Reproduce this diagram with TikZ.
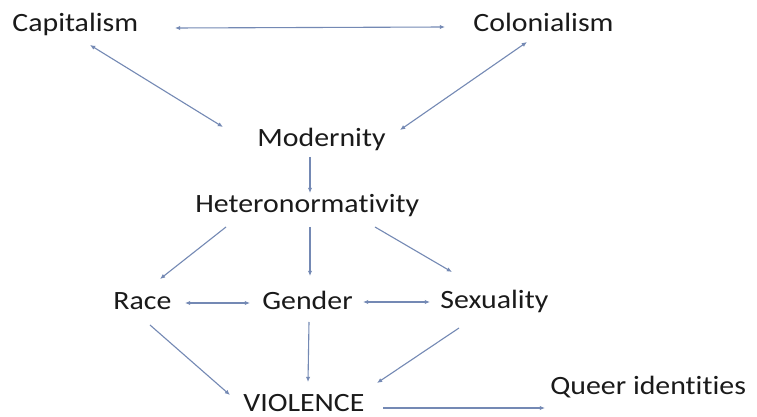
\documentclass[tikz,border=0pt]{standalone}
\usepackage{fontspec}
\setmainfont{Carlito}[FakeStretch=1.13,Ligatures={NoCommon,NoRequired,NoContextual}]
\usetikzlibrary{arrows.meta,calc}
\definecolor{arrowc}{HTML}{7489B4}
\definecolor{txt}{HTML}{1A1A1A}
\tikzset{
  lbl/.style={anchor=base west, inner sep=0pt, text=txt, font=\fontsize{13.2}{15}\selectfont},
  conn/.style={draw=arrowc, line width=0.55pt, -{Latex[length=2.6pt,width=2.2pt]}},
  biconn/.style={draw=arrowc, line width=0.55pt, {Latex[length=2.6pt,width=2.2pt]}-{Latex[length=2.6pt,width=2.2pt]}}
}
\begin{document}
\begin{tikzpicture}[x=0.5pt,y=-0.5pt]
\useasboundingbox[fill=white] (0,0) rectangle (757,417);
\node[lbl] (cap) at (12,32) {Capitalism};
\node[lbl] (col) at (473,32) {Colonialism};
\node[lbl] (mod) at (257,147) {Modernity};
\node[lbl] (het) at (195,213) {Heteronormativity};
\node[lbl] (race) at (113,310) {Race};
\node[lbl] (gen) at (262,310) {Gender};
\node[lbl] (sex) at (440,309) {Sexuality};
\node[lbl] (vio) at (243,412) {VIOLENCE};
\node[lbl] (que) at (550,395) {Queer identities};

\draw[biconn] ($(cap.base west)+(163,-4)$) -- ($(col.base west)+(-28,-5)$);
\draw[biconn] ($(cap.base west)+(78,13)$) -- ($(mod.base west)+(-34,-20)$);
\draw[biconn] ($(col.base west)+(54,10)$) -- ($(mod.base west)+(143,-17)$);
\draw[conn] ($(mod.base west)+(53,10)$) -- ($(het.base west)+(115,-20)$);
\draw[conn] ($(het.base west)+(31,14)$) -- ($(race.base west)+(47,-31)$);
\draw[conn] ($(het.base west)+(115,14)$) -- ($(gen.base west)+(48,-34)$);
\draw[conn] ($(het.base west)+(180,14)$) -- ($(sex.base west)+(12,-37)$);
\draw[biconn] ($(race.base west)+(72,-7)$) -- ($(gen.base west)+(-12,-7)$);
\draw[biconn] ($(gen.base west)+(101,-8)$) -- ($(sex.base west)+(-10,-7)$);
\draw[conn] ($(race.base west)+(37,15)$) -- ($(vio.base west)+(-13,-17)$);
\draw[conn] ($(gen.base west)+(47,12)$) -- ($(vio.base west)+(65,-30)$);
\draw[conn] ($(sex.base west)+(19,19)$) -- ($(vio.base west)+(134,-29)$);
\draw[conn] ($(vio.base west)+(140,-4)$) -- ($(que.base west)+(-5,13)$);
\end{tikzpicture}
\end{document}
